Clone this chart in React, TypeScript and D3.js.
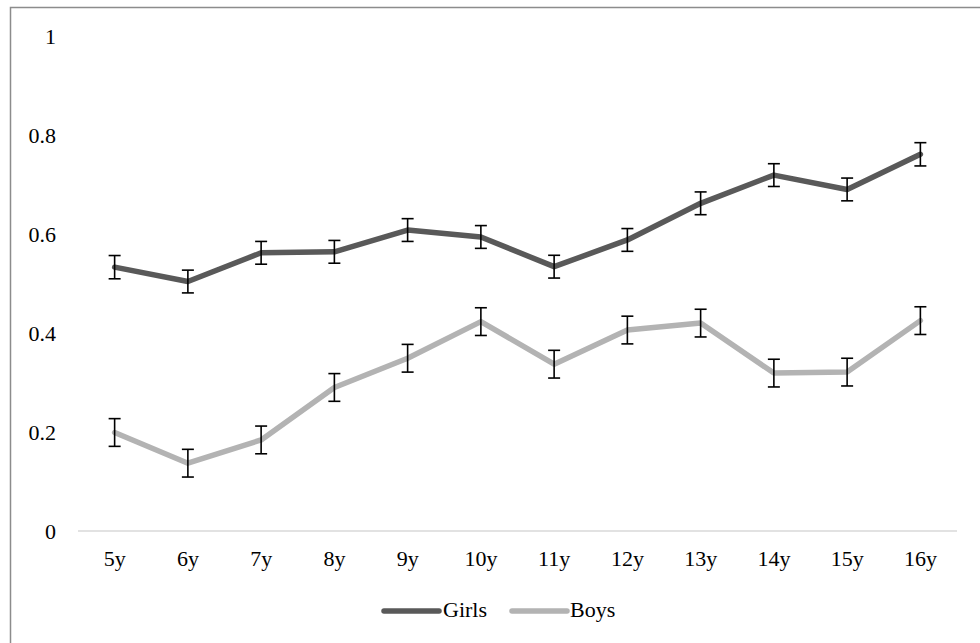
import React from "react";
import * as d3 from "d3";

const categories = ["5y", "6y", "7y", "8y", "9y", "10y", "11y", "12y", "13y", "14y", "15y", "16y"];
const girls = [0.533, 0.504, 0.562, 0.564, 0.608, 0.594, 0.534, 0.588, 0.662, 0.719, 0.69, 0.761];
const girlsErr = [0.0235, 0.023, 0.023, 0.023, 0.023, 0.023, 0.023, 0.023, 0.023, 0.023, 0.023, 0.0235];
const boys = [0.199, 0.137, 0.184, 0.29, 0.349, 0.423, 0.337, 0.406, 0.42, 0.319, 0.321, 0.425];
const boysErr = [0.028, 0.028, 0.028, 0.028, 0.028, 0.028, 0.028, 0.028, 0.028, 0.028, 0.028, 0.028];
const yTicks = [0, 0.2, 0.4, 0.6, 0.8, 1];
const yTickLabels = ["0", "0.2", "0.4", "0.6", "0.8", "1"];

const series = [
  { name: "Girls", values: girls, err: girlsErr, color: "#595959" },
  { name: "Boys", values: boys, err: boysErr, color: "#b3b3b3" },
];

export default function App() {
  const W = 980, H = 643;
  const x = d3.scaleBand<string>().domain(categories).range([78, 957]);
  const y = d3.scaleLinear().domain([0, 1]).range([531, 36]);
  const cx = (c: string) => (x(c) as number) + x.bandwidth() / 2;
  const line = d3.line<number>().x((_, i) => cx(categories[i])).y((v) => y(v));
  const font = "'Liberation Serif', 'Times New Roman', serif";
  const cap = 6;
  const legendItems = [
    { s: series[0], x0: 384, x1: 439, tx: 443 },
    { s: series[1], x0: 512, x1: 567, tx: 570 },
  ];
  return (
    <svg width={W} height={H} style={{ position: "absolute", left: 0, top: 0 }}>
      <rect x={0} y={0} width={W} height={H} fill="#fff" />
      <rect x={10.5} y={7.5} width={W + 20} height={H + 20} fill="none" stroke="#8c8c8c" strokeWidth={1.5} />
      <line x1={78} x2={957} y1={y(0)} y2={y(0)} stroke="#d9d9d9" strokeWidth={1.5} />
      {yTicks.map((t, i) => (
        <text key={t} x={56} y={y(t)} dy="0.35em" textAnchor="end" fontFamily={font} fontSize={22} fill="#000">
          {yTickLabels[i]}
        </text>
      ))}
      {categories.map((c) => (
        <text key={c} x={cx(c)} y={566} textAnchor="middle" fontFamily={font} fontSize={22} fill="#000">
          {c}
        </text>
      ))}
      {series.map((s) => (
        <path key={s.name} d={line(s.values) || ""} fill="none" stroke={s.color} strokeWidth={5.5} strokeLinejoin="round" strokeLinecap="round" />
      ))}
      {series.map((s) =>
        s.values.map((v, i) => {
          const px = cx(categories[i]);
          const top = y(v + s.err[i]);
          const bot = y(v - s.err[i]);
          return (
            <g key={s.name + i} stroke="#000" strokeWidth={1.6}>
              <line x1={px} x2={px} y1={top} y2={bot} />
              <line x1={px - cap} x2={px + cap} y1={top} y2={top} />
              <line x1={px - cap} x2={px + cap} y1={bot} y2={bot} />
            </g>
          );
        })
      )}
      {legendItems.map((l) => (
        <g key={l.s.name}>
          <line x1={l.x0} x2={l.x1} y1={611} y2={611} stroke={l.s.color} strokeWidth={5.5} strokeLinecap="round" />
          <text x={l.tx} y={617} fontFamily={font} fontSize={22} fill="#000">
            {l.s.name}
          </text>
        </g>
      ))}
    </svg>
  );
}
